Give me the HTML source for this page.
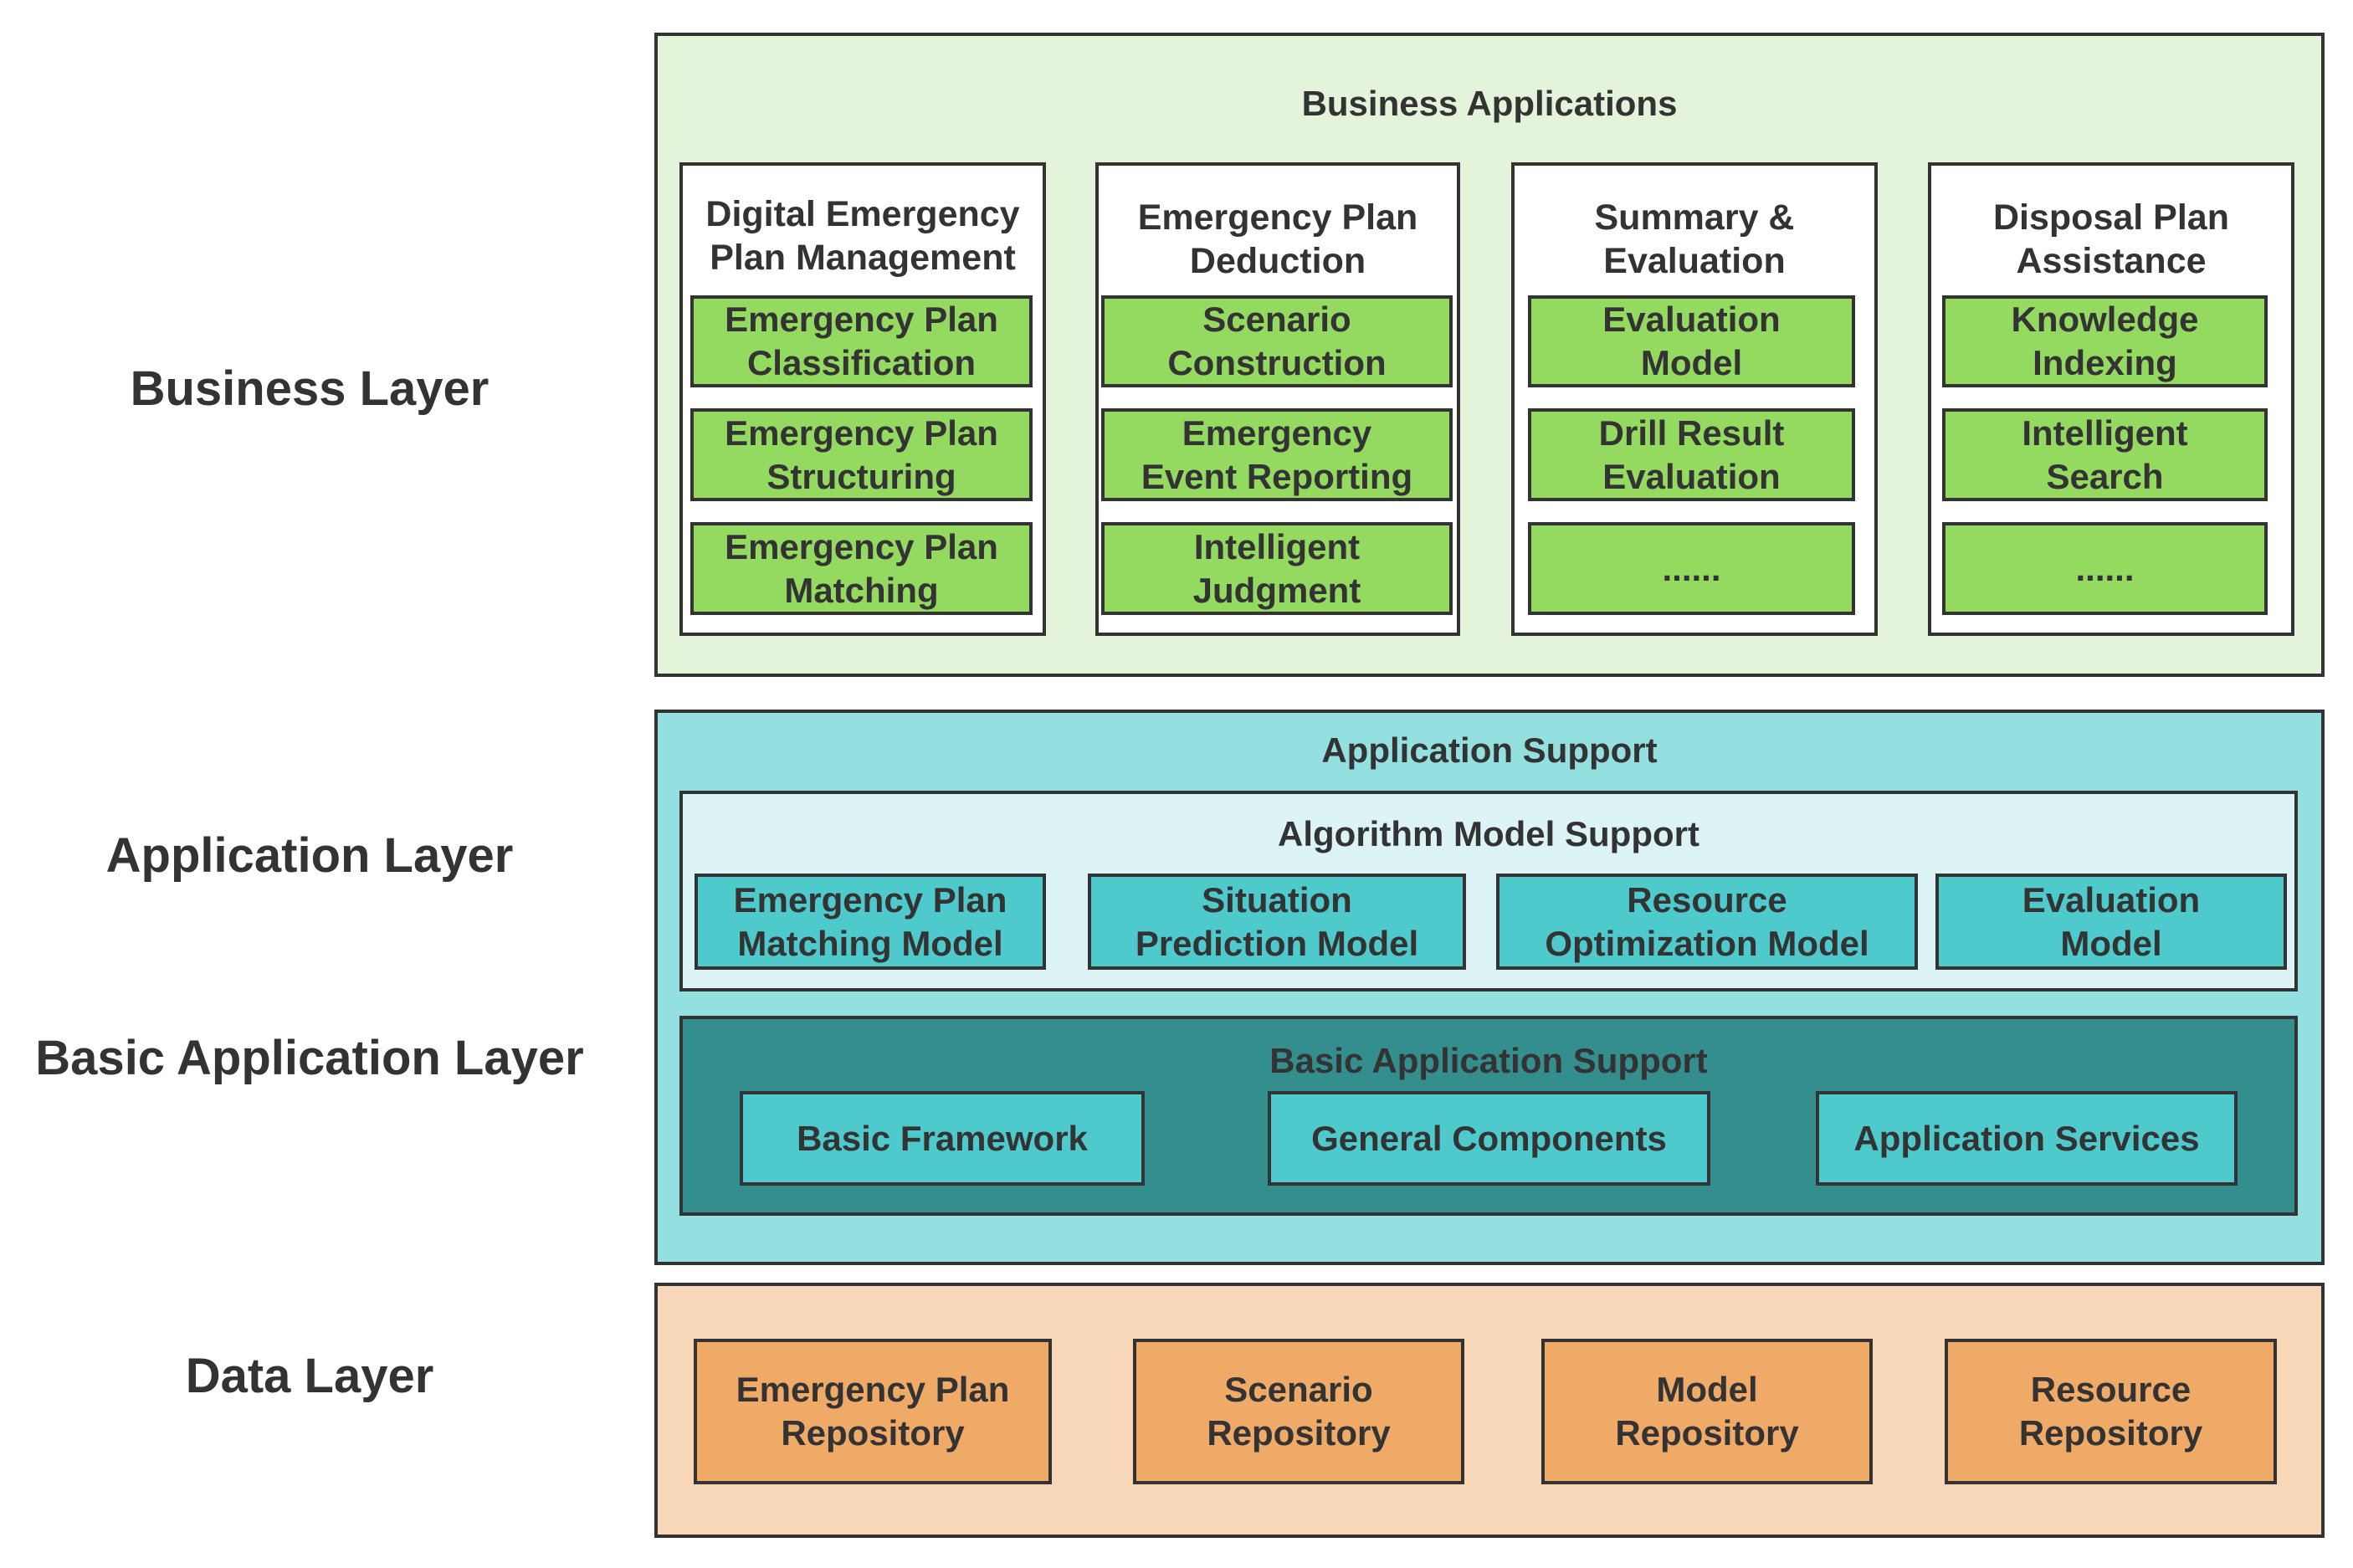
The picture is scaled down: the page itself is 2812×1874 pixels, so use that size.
<!DOCTYPE html>
<html><head><meta charset="utf-8"><style>
body{margin:0;width:2812px;height:1874px;background:#fff;position:relative;overflow:hidden;font-family:"Liberation Sans","DejaVu Sans",sans-serif;color:#333;}
.b{position:absolute;box-sizing:border-box;border:4px solid #333;display:flex;align-items:center;justify-content:center;text-align:center;font-weight:bold;font-size:42px;line-height:52px;}
.t{position:absolute;text-align:center;font-weight:bold;font-size:42px;line-height:52px;}
.L{position:absolute;left:0;width:740px;text-align:center;font-weight:bold;font-size:58px;}
.g{background:#94d960;}.w{background:#fff;}.c{background:#4ecacc;}.o{background:#f0aa68;}
</style></head><body>
<div class="L" style="top:431px">Business Layer</div>
<div class="L" style="top:989px">Application Layer</div>
<div class="L" style="top:1231px">Basic Application Layer</div>
<div class="L" style="top:1611px">Data Layer</div>

<div class="b" style="left:782px;top:39px;width:1996px;height:770px;background:#e3f4da"></div>
<div class="t" style="left:782px;width:1996px;top:98px">Business Applications</div>

<div class="b w" style="left:812px;top:194px;width:438px;height:566px"></div>
<div class="b w" style="left:1309px;top:194px;width:436px;height:566px"></div>
<div class="b w" style="left:1806px;top:194px;width:438px;height:566px"></div>
<div class="b w" style="left:2304px;top:194px;width:438px;height:566px"></div>
<div class="t" style="left:812px;width:438px;top:230px;font-size:43px">Digital Emergency<br>Plan Management</div>
<div class="t" style="left:1309px;width:436px;top:234px;font-size:43px">Emergency Plan<br>Deduction</div>
<div class="t" style="left:1806px;width:438px;top:234px;font-size:43px">Summary &amp;<br>Evaluation</div>
<div class="t" style="left:2304px;width:438px;top:234px;font-size:43px">Disposal Plan<br>Assistance</div>

<div class="b g" style="left:825px;top:353px;width:409px;height:110px">Emergency Plan<br>Classification</div>
<div class="b g" style="left:825px;top:488px;width:409px;height:111px">Emergency Plan<br>Structuring</div>
<div class="b g" style="left:825px;top:624px;width:409px;height:111px">Emergency Plan<br>Matching</div>
<div class="b g" style="left:1316px;top:353px;width:420px;height:110px">Scenario<br>Construction</div>
<div class="b g" style="left:1316px;top:488px;width:420px;height:111px">Emergency<br>Event Reporting</div>
<div class="b g" style="left:1316px;top:624px;width:420px;height:111px">Intelligent<br>Judgment</div>
<div class="b g" style="left:1826px;top:353px;width:391px;height:110px">Evaluation<br>Model</div>
<div class="b g" style="left:1826px;top:488px;width:391px;height:111px">Drill Result<br>Evaluation</div>
<div class="b g" style="left:1826px;top:624px;width:391px;height:111px">......</div>
<div class="b g" style="left:2321px;top:353px;width:389px;height:110px">Knowledge<br>Indexing</div>
<div class="b g" style="left:2321px;top:488px;width:389px;height:111px">Intelligent<br>Search</div>
<div class="b g" style="left:2321px;top:624px;width:389px;height:111px">......</div>

<div class="b" style="left:782px;top:848px;width:1996px;height:664px;background:#94e0e0"></div>
<div class="t" style="left:782px;width:1996px;top:871px">Application Support</div>
<div class="b" style="left:812px;top:945px;width:1934px;height:240px;background:#dcf4f5"></div>
<div class="t" style="left:812px;width:1934px;top:971px">Algorithm Model Support</div>
<div class="b c" style="left:830px;top:1044px;width:420px;height:115px">Emergency Plan<br>Matching Model</div>
<div class="b c" style="left:1300px;top:1044px;width:452px;height:115px">Situation<br>Prediction Model</div>
<div class="b c" style="left:1788px;top:1044px;width:504px;height:115px">Resource<br>Optimization Model</div>
<div class="b c" style="left:2313px;top:1044px;width:420px;height:115px">Evaluation<br>Model</div>

<div class="b" style="left:812px;top:1214px;width:1934px;height:239px;background:#358e8e"></div>
<div class="t" style="left:812px;width:1934px;top:1242px">Basic Application Support</div>
<div class="b c" style="left:884px;top:1304px;width:484px;height:113px">Basic Framework</div>
<div class="b c" style="left:1515px;top:1304px;width:529px;height:113px">General Components</div>
<div class="b c" style="left:2170px;top:1304px;width:504px;height:113px">Application Services</div>

<div class="b" style="left:782px;top:1533px;width:1996px;height:305px;background:#f8d6b8"></div>
<div class="b o" style="left:829px;top:1600px;width:428px;height:174px">Emergency Plan<br>Repository</div>
<div class="b o" style="left:1354px;top:1600px;width:396px;height:174px">Scenario<br>Repository</div>
<div class="b o" style="left:1842px;top:1600px;width:396px;height:174px">Model<br>Repository</div>
<div class="b o" style="left:2324px;top:1600px;width:397px;height:174px">Resource<br>Repository</div>
</body></html>
